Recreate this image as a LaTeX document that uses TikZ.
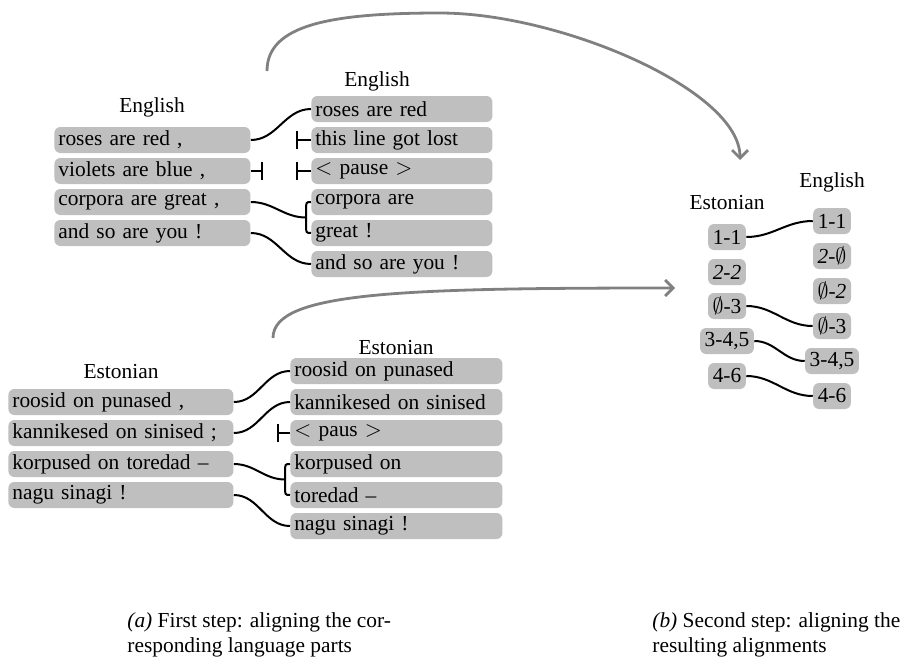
\documentclass[tikz,border=0pt]{standalone}
\usepackage{fontspec}
\setmainfont{Liberation Serif}
\usetikzlibrary{arrows.meta}
\tikzset{
  seg/.style={fill=black!25, rounded corners=3pt, inner xsep=2pt, inner ysep=0pt, minimum height=13pt, anchor=west, align=left},
  enL/.style={seg, text width=94pt},
  enR/.style={seg, text width=86.5pt},
  etL/.style={seg, text width=108.5pt},
  etR/.style={seg, text width=102pt},
  num/.style={fill=black!25, rounded corners=3pt, inner xsep=2.3pt, inner ysep=0pt, minimum height=13pt, minimum width=17.5pt},
  link/.style={line width=1pt},
  lost/.style={line width=1pt, -{Bar[width=9pt]}},
  flow/.style={line width=1.4pt, black!50, -{Straight Barb[length=4pt,width=8pt]}},
  capline/.style={anchor=base west, inner sep=0pt},
}

\begin{document}
\begin{tikzpicture}[x=0.5pt,y=-0.5pt,font=\fontsize{10.7pt}{12.8pt}\selectfont]
		%%%%% START %%%%%
		\useasboundingbox (0,0) rectangle (908,658);
		
		% first step, English
		\node (enLt) at (152,107) {English};
		\node[enL] (enL1) at (54,140) {roses are red ,};
		\node[enL] (enL2) at (54,171) {violets are blue ,};
		\node[enL] (enL3) at (54,202) {corpora are great ,};
		\node[enL] (enL4) at (54,233) {and so are you !};
		
		\node (enRt) at (377,81) {English};
		\node[enR] (enR1) at (311,109) {roses are red};
		\node[enR] (enR2) at (311,140) {this line got lost};
		\node[enR] (enR3) at (311,171) {$<$ pause $>$};
		\node[enR] (enR4) at (311,202) {corpora are};
		\node[enR] (enR5) at (311,233) {great !};
		\node[enR] (enR6) at (311,264) {and so are you !};
		
		\coordinate (brEn) at (306,217.5);
		\draw[link] (enL1.east) to[out=0,in=180] (enR1.west);
		\draw[lost] (enL2.east) -- ++(12,0);
		\draw[lost] (enR2.west) -- ++(-15,0);
		\draw[lost] (enR3.west) -- ++(-15,0);
		\draw[link] (enL3.east) to[out=0,in=180] (brEn);
		\draw[link] (enR4.west) .. controls (306,202) .. (306,211) -- (306,224) .. controls (306,233) .. (enR5.west);
		\draw[link] (enL4.east) to[out=0,in=180] (enR6.west);
		
		% first step, Estonian
		\node (etLt) at (121,372) {Estonian};
		\node[etL] (etL1) at (8,402) {roosid on punased ,};
		\node[etL] (etL2) at (8,433) {kannikesed on sinised ;};
		\node[etL] (etL3) at (8,464) {korpused on toredad --};
		\node[etL] (etL4) at (8,495) {nagu sinagi !};
		
		\node (etRt) at (396,348) {Estonian};
		\node[etR] (etR1) at (290,371) {roosid on punased};
		\node[etR] (etR2) at (290,402) {kannikesed on sinised};
		\node[etR] (etR3) at (290,433) {$<$ paus $>$};
		\node[etR] (etR4) at (290,464) {korpused on};
		\node[etR] (etR5) at (290,495) {toredad --};
		\node[etR] (etR6) at (290,526) {nagu sinagi !};
		
		\coordinate (brEt) at (285,479.5);
		\draw[link] (etL1.east) to[out=0,in=180] (etR1.west);
		\draw[link] (etL2.east) to[out=0,in=180] (etR2.west);
		\draw[lost] (etR3.west) -- ++(-13,0);
		\draw[link] (etL3.east) to[out=0,in=180] (brEt);
		\draw[link] (etR4.west) .. controls (285,464) .. (285,473) -- (285,486) .. controls (285,495) .. (etR5.west);
		\draw[link] (etL4.east) to[out=0,in=180] (etR6.west);
		
		% second step
		\node (alLt) at (727,203) {Estonian};
		\node[num] (alL1) at (727,237) {1-1};
		\node[num] (alL2) at (727,272) {\textit{2-2}};
		\node[num] (alL3) at (727,306) {$\emptyset$-3};
		\node[num] (alL4) at (727,341) {3-4,5};
		\node[num] (alL5) at (727,376) {4-6};
		
		\node (alRt) at (832,182) {English};
		\node[num] (alR1) at (832,221) {1-1};
		\node[num] (alR2) at (832,256) {\textit{2-}$\emptyset$};
		\node[num] (alR3) at (832,291) {$\emptyset$\textit{-2}};
		\node[num] (alR4) at (832,326) {$\emptyset$-3};
		\node[num] (alR5) at (832,361) {3-4,5};
		\node[num] (alR6) at (832,396) {4-6};
		
		\draw[link] (alL1.east) to[out=0,in=180] (alR1.west);
		\draw[link] (alL3.east) to[out=0,in=180] (alR4.west);
		\draw[link] (alL4.east) to[out=0,in=180] (alR5.west);
		\draw[link] (alL5.east) to[out=0,in=180] (alR6.west);
		
		% from step one to step two
		\coordinate (fromEn) at (267,71);
		\coordinate (topEn) at (440,13);
		\coordinate (toEn) at (740,160);
		\draw[flow] (fromEn) .. controls (267,25) and (330,13) .. (topEn) .. controls (560,13) and (740,90) .. (toEn);
		\coordinate (fromEt) at (273,338);
		\coordinate (toEt) at (675,288);
		\draw[flow] (fromEt) .. controls (273,292) and (400,288) .. (toEt);
		
		% captions
		\node[capline] (capA1) at (127,627) {\textit{(a)} First step: aligning the cor-};
		\node[capline] (capA2) at (127,652) {responding language parts};
		\node[capline] (capB1) at (652,627) {\textit{(b)} Second step: aligning the};
		\node[capline] (capB2) at (652,652) {resulting alignments};
		
		%%%%% END %%%%%
\end{tikzpicture}
\end{document}
